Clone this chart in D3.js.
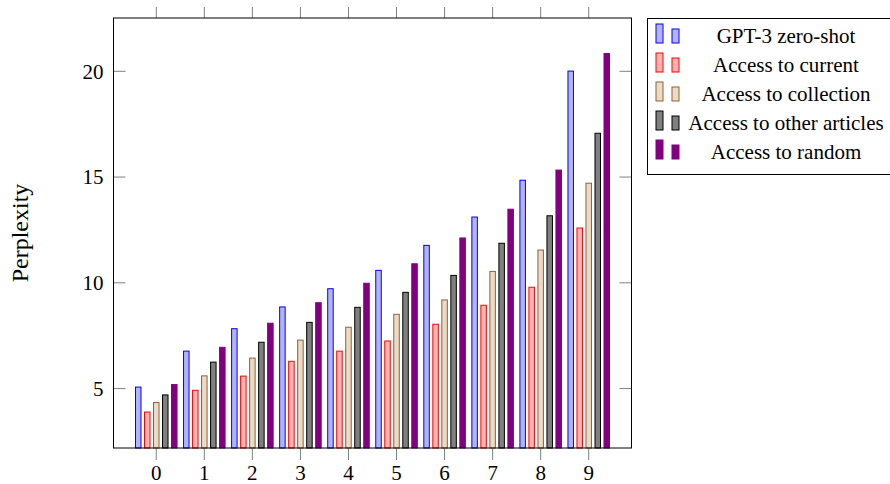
<!DOCTYPE html>
<html>
<head>
<meta charset="utf-8">
<script src="https://cdn.jsdelivr.net/npm/d3@7"></script>
<style>
  body { margin: 0; background: white; }
  text { font-family: "Liberation Serif", "DejaVu Serif", serif; fill: black; }
</style>
</head>
<body>
<div id="chart"></div>
<script>
// data
var categories = [0, 1, 2, 3, 4, 5, 6, 7, 8, 9];
var seriesNames = ["GPT-3 zero-shot", "Access to current", "Access to collection",
  "Access to other articles", "Access to random"];
var gpt3 = [5.07, 6.77, 7.83, 8.86, 9.72, 10.59, 11.77, 13.11, 14.85, 20.01];
var current = [3.89, 4.92, 5.59, 6.29, 6.77, 7.25, 8.04, 8.94, 9.79, 12.59];
var collection = [4.34, 5.60, 6.44, 7.29, 7.90, 8.51, 9.19, 10.54, 11.55, 14.71];
var otherArticles = [4.70, 6.25, 7.19, 8.13, 8.84, 9.55, 10.35, 11.87, 13.17, 17.07];
var random = [5.19, 6.95, 8.09, 9.06, 9.98, 10.90, 12.12, 13.48, 15.33, 20.84];
var yTicks = [5, 10, 15, 20];

var series = [gpt3, current, collection, otherArticles, random];
var fills = ["#b3b3ff", "#ffb3b3", "#ecd9c6", "#808080", "#800080"];
var strokes = ["#0000ff", "#ff0000", "#8c6239", "#000000", "#800080"];

var svgWidth = 890;
var svgHeight = 484;
var margin = { top: 18, right: 258.5, bottom: 36, left: 113.5 };
var width = svgWidth - margin.left - margin.right;
var height = svgHeight - margin.top - margin.bottom;

var svg = d3.select("#chart")
  .append("svg")
  .attr("width", svgWidth)
  .attr("height", svgHeight);

var chartGroup = svg.append("g")
  .attr("transform", `translate(${margin.left}, ${margin.top})`);

var xScale = d3.scaleLinear()
  .domain([-0.89, 9.89])
  .range([0, width]);

var yScale = d3.scaleLinear()
  .domain([2.19, 22.52])
  .range([height, 0]);

// bar layout: 5 bars per group, step relative to unit spacing
var step = (xScale(1) - xScale(0)) * 0.1875;
var barW = 5.5;

// x ticks (outside, top and bottom)
var tickColor = "#808080";
chartGroup.append("g")
  .selectAll("line")
  .data(categories)
  .enter()
  .append("line")
  .attr("x1", d => xScale(d))
  .attr("x2", d => xScale(d))
  .attr("y1", height)
  .attr("y2", height + 12)
  .attr("stroke", tickColor);

chartGroup.append("g")
  .selectAll("line")
  .data(categories)
  .enter()
  .append("line")
  .attr("x1", d => xScale(d))
  .attr("x2", d => xScale(d))
  .attr("y1", 0)
  .attr("y2", -11)
  .attr("stroke", tickColor);

// y ticks (inside, left and right)
chartGroup.append("g")
  .selectAll("line")
  .data(yTicks)
  .enter()
  .append("line")
  .attr("x1", 0)
  .attr("x2", 12)
  .attr("y1", d => yScale(d))
  .attr("y2", d => yScale(d))
  .attr("stroke", tickColor);

chartGroup.append("g")
  .selectAll("line")
  .data(yTicks)
  .enter()
  .append("line")
  .attr("x1", width)
  .attr("x2", width - 12)
  .attr("y1", d => yScale(d))
  .attr("y2", d => yScale(d))
  .attr("stroke", tickColor);

// bars
series.forEach(function(vals, j) {
  chartGroup.append("g")
    .selectAll("rect")
    .data(vals)
    .enter()
    .append("rect")
    .attr("x", (d, i) => xScale(categories[i]) + (j - 2) * step - barW / 2)
    .attr("y", d => yScale(d))
    .attr("width", barW)
    .attr("height", d => height - yScale(d))
    .attr("fill", fills[j])
    .attr("stroke", strokes[j])
    .attr("stroke-width", 1);
});

// frame
chartGroup.append("rect")
  .attr("width", width)
  .attr("height", height)
  .attr("fill", "none")
  .attr("stroke", "black")
  .attr("stroke-width", 1);

// tick labels
chartGroup.append("g")
  .selectAll("text")
  .data(categories)
  .enter()
  .append("text")
  .attr("x", d => xScale(d))
  .attr("y", height + 32)
  .attr("text-anchor", "middle")
  .style("font-size", "21px")
  .text(d => d);

chartGroup.append("g")
  .selectAll("text")
  .data(yTicks)
  .enter()
  .append("text")
  .attr("x", -10)
  .attr("y", d => yScale(d))
  .attr("dy", "0.35em")
  .attr("text-anchor", "end")
  .style("font-size", "21px")
  .text(d => d);

// axis label
svg.append("text")
  .attr("transform", `translate(28, ${margin.top + height / 2}) rotate(-90)`)
  .attr("text-anchor", "middle")
  .style("font-size", "24px")
  .text("Perplexity");

// legend
var legend = svg.append("g")
  .attr("transform", "translate(647, 18)");

legend.append("rect")
  .attr("x", 0.5)
  .attr("y", 0.5)
  .attr("width", 250)
  .attr("height", 156)
  .attr("fill", "white")
  .attr("stroke", "black");

var rows = legend.selectAll("g.row")
  .data(seriesNames)
  .enter()
  .append("g")
  .attr("class", "row")
  .attr("transform", (d, i) => `translate(0, ${25 + i * 29})`);

rows.append("rect")
  .attr("x", 9)
  .attr("y", -19)
  .attr("width", 7)
  .attr("height", 19)
  .attr("fill", (d, i) => fills[i])
  .attr("stroke", (d, i) => strokes[i]);

rows.append("rect")
  .attr("x", 25)
  .attr("y", -14)
  .attr("width", 7)
  .attr("height", 14)
  .attr("fill", (d, i) => fills[i])
  .attr("stroke", (d, i) => strokes[i]);

rows.append("text")
  .attr("x", 139)
  .attr("y", 0)
  .attr("text-anchor", "middle")
  .style("font-size", "21px")
  .text(d => d);
</script>
</body>
</html>
